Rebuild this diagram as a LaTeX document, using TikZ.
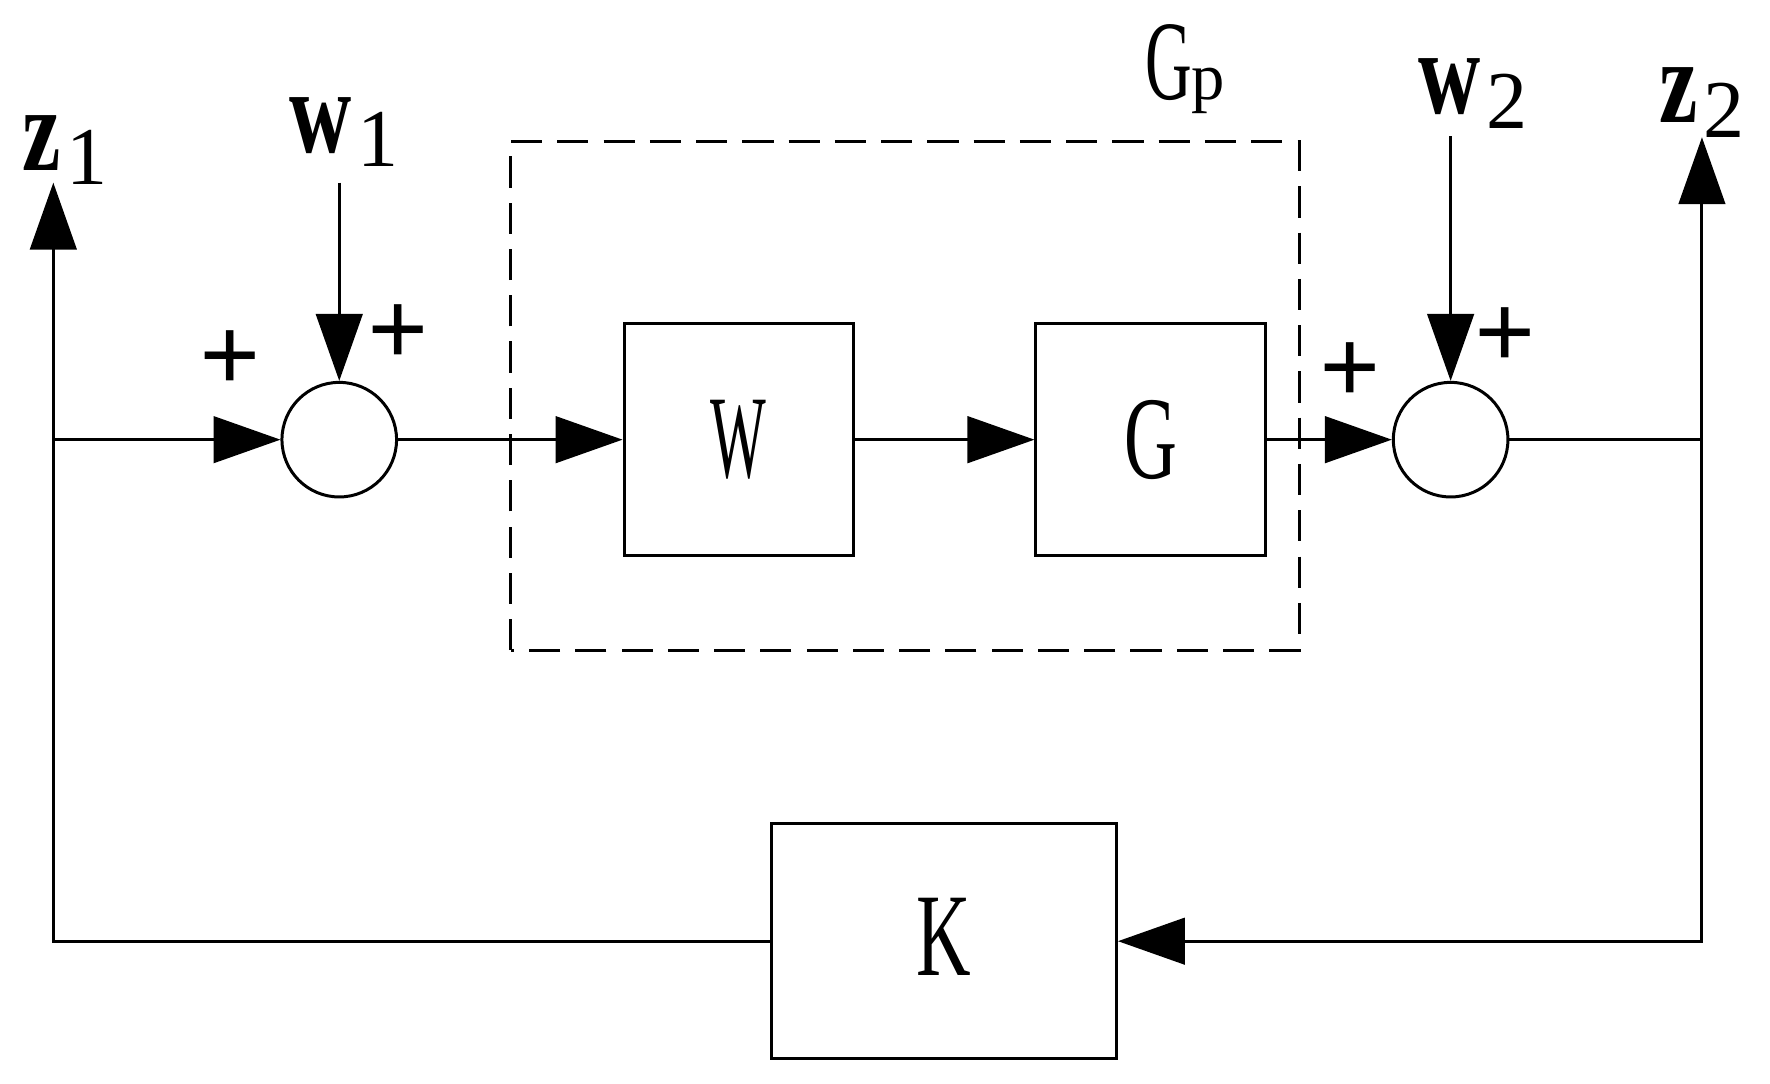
\documentclass[tikz,border=0pt]{standalone}
\usepackage{fontspec}
\setmainfont{Liberation Serif}
\usetikzlibrary{arrows.meta}
\newcommand{\sig}[2]{{\bfseries\scalebox{.72}[1]{#1}}\kern1.5pt\raisebox{-3.7pt}{\fontsize{20.6}{21}\selectfont #2}}
\begin{document}
\begin{tikzpicture}[>={Triangle[length=5.9mm,width=4.1mm]}, line width=.75pt,
    block/.style={draw, minimum width=2.02cm, minimum height=2.05cm, inner sep=0pt, font=\fontsize{29.6}{30}\selectfont},
    sumnode/.style={draw, circle, minimum size=1.01cm, inner sep=0pt},
    sig/.style={anchor=base west, inner sep=0pt, font=\fontsize{30}{30}\selectfont},
    sign/.style={inner sep=0pt, font=\fontsize{27}{27}\selectfont\bfseries}]
\useasboundingbox (0,0) rectangle (15.6,9.545);
% blocks and summing points
\node[sumnode] (s1) at (2.99,5.67) {};
\node[block] (W) at (6.51,5.67) {\scalebox{.5}[1]{W}};
\node[block] (G) at (10.14,5.67) {\scalebox{.62}[1]{G}};
\node[sumnode] (s2) at (12.785,5.67) {};
\node[block, minimum width=3.04cm, minimum height=2.07cm] (K) at (8.32,1.25) {\raisebox{.07cm}{\scalebox{.64}[1]{K}}};
\draw[dash pattern=on 7.8pt off 3.8pt] (4.50,3.815) rectangle (11.45,8.295);
\node[anchor=base west, inner sep=0pt] (Gp) at (10.08,8.665)
    {{\fontsize{28.4}{29}\selectfont\scalebox{.57}[1]{G}}{\fontsize{16.7}{17}\selectfont p}};
\coordinate (j1) at (0.47,5.67);
\coordinate (j2) at (15.0,5.67);
\coordinate (z1) at (0.47,7.935);
\coordinate (z2) at (15.0,8.335);
\coordinate (w1) at (2.99,7.935);
\coordinate (w2) at (12.785,8.345);
% signals
\draw[->] (j1) -- (s1);
\draw[->] (s1) -- (W);
\draw[->] (W) -- (G);
\draw[->] (G) -- (s2);
\draw (s2) -- (j2);
\draw[->] (j2) -- (z2);
\draw[->] (j2) |- (K);
\draw[->] (K) -| (z1);
\draw[->] (w1) -- (s1);
\draw[->] (w2) -- (s2);
\node[sig] (lz1) at (0.185,8.045) {\sig{z}{1}};
\node[sig] (lw1) at (2.54,8.205) {\sig{w}{1}};
\node[sig] (lw2) at (12.49,8.545) {\sig{w}{2}};
\node[sig] (lz2) at (14.61,8.465) {\sig{z}{2}};
\node[sign] (p1) at (2.03,6.365) {+};
\node[sign] (p2) at (3.51,6.595) {+};
\node[sign] (p3) at (11.90,6.255) {+};
\node[sign] (p4) at (13.27,6.565) {+};
\end{tikzpicture}
\end{document}
